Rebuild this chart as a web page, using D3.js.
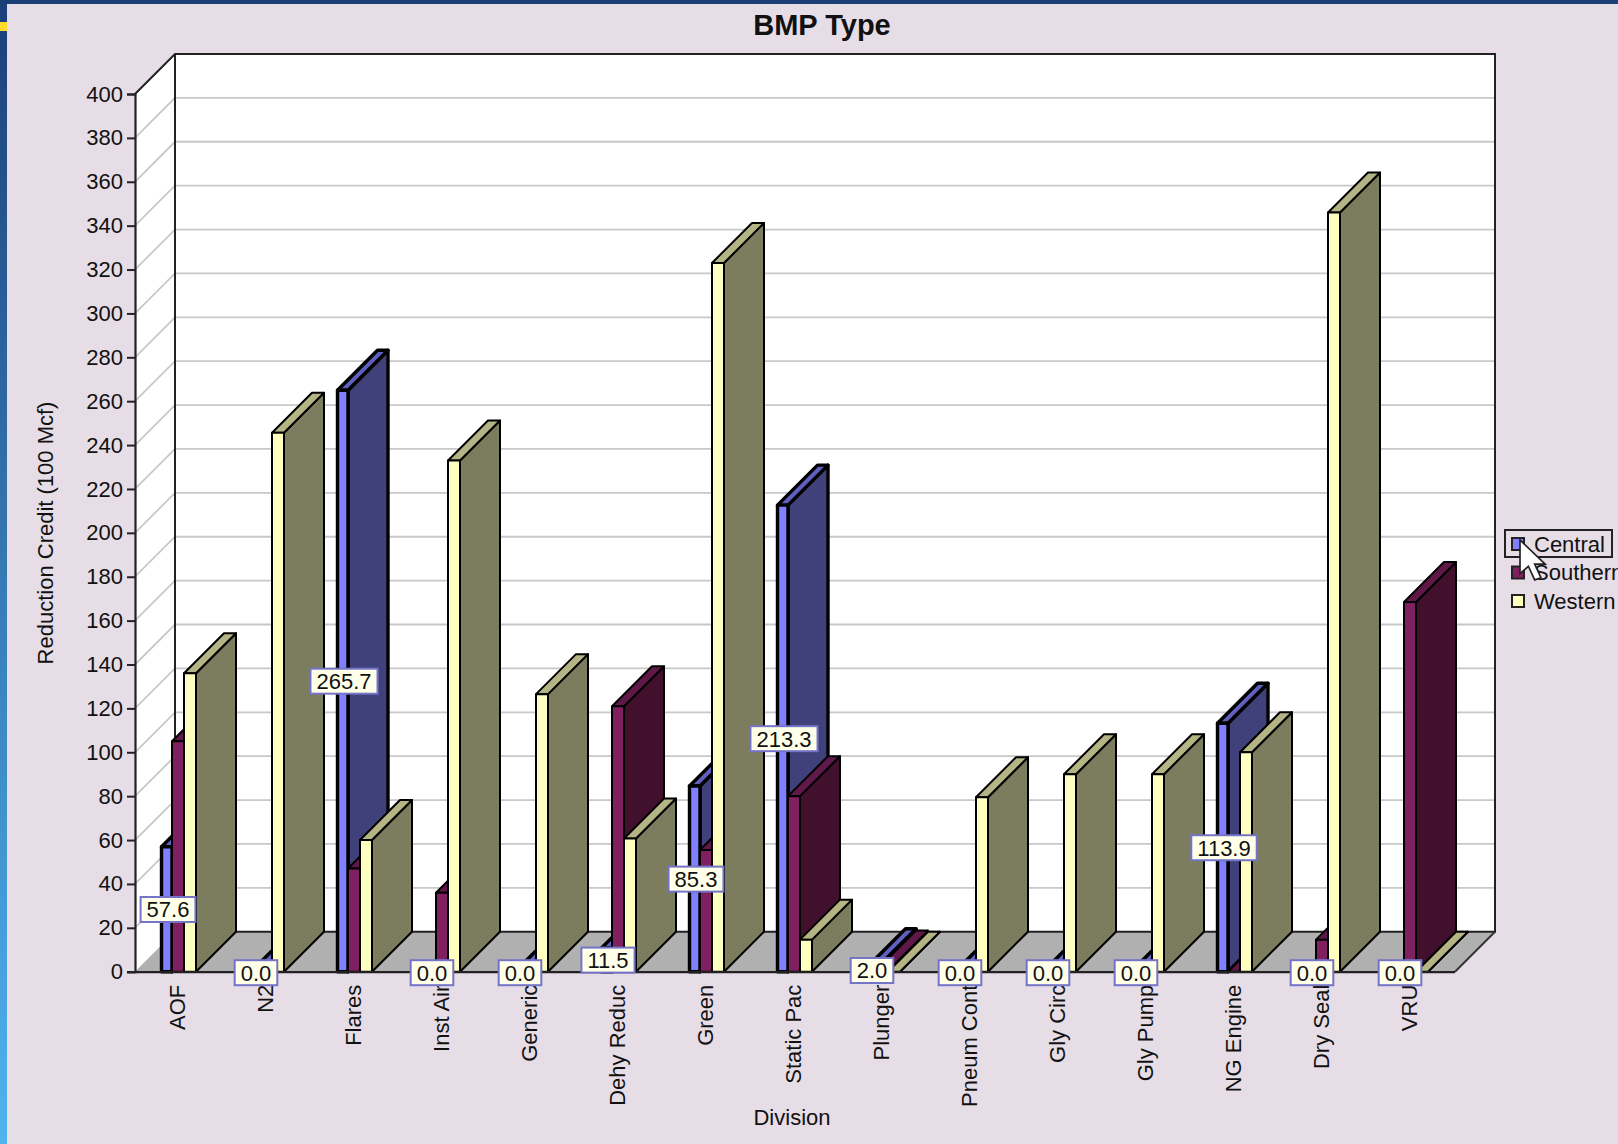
<!DOCTYPE html>
<html>
<head>
<meta charset="utf-8">
<script src="https://cdn.jsdelivr.net/npm/d3@7"></script>
<style>
html, body { margin: 0; padding: 0; background: #e6dde6; overflow: hidden; }
svg { display: block; }
text { font-family: "Liberation Sans", Arial, sans-serif; fill: #111; }
</style>
</head>
<body>
<div id="chart"></div>
<script>
// values
const categories = ["AOF", "N2", "Flares", "Inst Air", "Generic", "Dehy Reduc", "Green", "Static Pac",
    "Plunger", "Pneum Cont", "Gly Circ", "Gly Pump", "NG Engine", "Dry Seal", "VRU"];
const seriesNames = ["Central", "Southern", "Western"];
const central = [57.6, 0, 265.7, 0, 0, 11.5, 85.3, 213.3, 2.0, 0, 0, 0, 113.9, 0, 0];
const southern = [105, 0, 47, 36, 0, 121, 55.5, 80, 0.5, 0, 0, 0, 0, 14.6, 168.5];
const western = [136, 245.6, 60, 233, 126.5, 60.7, 323, 14.6, 0, 79.5, 90, 90, 100, 346, 0];
const yTicks = d3.range(0, 401, 20);

const seriesValues = [central, southern, western];
const colors = {
    Central: { front: "#8080ff", side: "#40407a", top: "#6060c0", stroke: 3.4, inset: 1.5 },
    Southern: { front: "#802060", side: "#40102c", top: "#601848", stroke: 2, inset: 0 },
    Western: { front: "#ffffc0", side: "#7c7c5e", top: "#b4b484", stroke: 2, inset: 0 }
};

const width = 1618, height = 1144;
const plotLeft = 135, plotRight = 1455, plotBottom = 971.7, plotTop = 94;
const depth = 40;
const fontSize = "22px";

const svg = d3.select("#chart").append("svg")
    .attr("width", width)
    .attr("height", height);

// page decoration: left stripe
const grad = svg.append("defs").append("linearGradient")
    .attr("id", "stripe").attr("x1", 0).attr("x2", 0).attr("y1", 0).attr("y2", 1);
grad.append("stop").attr("offset", "0%").attr("stop-color", "#1c3f78");
grad.append("stop").attr("offset", "100%").attr("stop-color", "#4fb4f0");

svg.append("rect").attr("width", width).attr("height", 4).attr("fill", "#1c3f78");
svg.append("rect").attr("width", 7).attr("height", height).attr("fill", "url(#stripe)");
svg.append("rect").attr("y", 22).attr("width", 7).attr("height", 9).attr("fill", "#ffd92e");

const x = d3.scaleBand().domain(categories).range([plotLeft, plotRight]);
const y = d3.scaleLinear().domain([0, 400]).range([plotBottom, plotTop]);
const xSeries = d3.scaleBand().domain(seriesNames).range([25, 61]);

// walls and floor
const wallTop = y(400) - depth;
const wallBottom = plotBottom - depth;

svg.append("rect")
    .attr("x", plotLeft + depth).attr("y", wallTop)
    .attr("width", plotRight - plotLeft).attr("height", wallBottom - wallTop)
    .attr("fill", "#fff");
svg.append("path")
    .attr("d", `M${plotLeft},${plotBottom}V${y(400)}L${plotLeft + depth},${wallTop}V${wallBottom}Z`)
    .attr("fill", "#fff");
svg.append("path")
    .attr("d", `M${plotLeft},${plotBottom}H${plotRight}L${plotRight + depth},${wallBottom}H${plotLeft + depth}Z`)
    .attr("fill", "#b0b0b0");

// grid lines
svg.append("g").selectAll("path")
    .data(yTicks.filter(d => d > 0 && d < 400))
    .enter().append("path")
    .attr("d", d => `M${plotLeft},${y(d)}L${plotLeft + depth},${y(d) - depth}H${plotRight + depth}`)
    .attr("fill", "none")
    .attr("stroke", "#c8c8c8")
    .attr("stroke-width", 1.8);

// wall outlines
svg.append("path")
    .attr("d", `M${plotLeft},${y(400)}L${plotLeft + depth},${wallTop}H${plotRight + depth}V${wallBottom}H${plotLeft + depth}`)
    .attr("fill", "none").attr("stroke", "#222").attr("stroke-width", 2);
svg.append("path")
    .attr("d", `M${plotLeft + depth},${wallTop}V${wallBottom}`)
    .attr("stroke", "#222").attr("stroke-width", 2);
svg.append("path")
    .attr("d", `M${plotRight + depth},${wallBottom}L${plotRight},${plotBottom}`)
    .attr("stroke", "#333").attr("stroke-width", 2);

// bars: one front, one side and one top face per value
function drawBar(g, name, cat, value) {
    const c = colors[name];
    const x0 = x(cat) + xSeries(name) + c.inset;
    const x1 = x(cat) + xSeries(name) + xSeries.bandwidth();
    const yv = y(value) + c.inset;
    const bar = g.append("g")
        .attr("stroke", "#000")
        .attr("stroke-width", c.stroke)
        .attr("stroke-linejoin", "round");
    bar.append("path")
        .attr("d", `M${x1},${plotBottom}V${yv}L${x1 + depth},${yv - depth}V${plotBottom - depth}Z`)
        .attr("fill", c.side);
    bar.append("path")
        .attr("d", `M${x0},${yv}H${x1}L${x1 + depth},${yv - depth}H${x0 + depth}Z`)
        .attr("fill", c.top);
    bar.append("rect")
        .attr("x", x0).attr("y", yv)
        .attr("width", x1 - x0).attr("height", Math.max(0, plotBottom - yv))
        .attr("fill", c.front);
}

const bars = svg.append("g");
categories.forEach((cat, i) => {
    seriesNames.forEach((name, s) => drawBar(bars, name, cat, seriesValues[s][i]));
});

// axes
const yAxis = d3.axisLeft(y).tickValues(yTicks).tickSize(8).tickPadding(4);
const yG = svg.append("g").attr("transform", `translate(${plotLeft},0)`).call(yAxis);
yG.select(".domain").attr("stroke", "#222").attr("stroke-width", 2.2);
yG.selectAll(".tick line").attr("stroke", "#222").attr("stroke-width", 2);
yG.selectAll("text").style("font-size", fontSize).style("font-family", "Liberation Sans").attr("fill", "#111");

const xAxis = d3.axisBottom(x).tickSize(0).tickPadding(0);
const xG = svg.append("g").attr("transform", `translate(0,${plotBottom})`).call(xAxis);
xG.select(".domain").attr("d", `M${plotLeft - 8},0.5H${plotRight}`).attr("stroke", "#222").attr("stroke-width", 2.2);
xG.selectAll("text")
    .style("font-size", fontSize).style("font-family", "Liberation Sans").attr("fill", "#111")
    .attr("text-anchor", "end")
    .attr("dy", "0.35em")
    .attr("transform", "translate(-2,13) rotate(-90)");

// value labels, only the Central series has them
const labels = svg.append("g");
categories.forEach((cat, i) => {
    const v = central[i];
    const cx = x(cat) + xSeries("Central") + xSeries.bandwidth() / 2 + 2;
    const cy = y(v / 2) + 1;
    const lg = labels.append("g").attr("transform", `translate(${cx},${cy})`);
    const box = lg.append("rect").attr("fill", "#ffffea").attr("stroke", "#7474c8").attr("stroke-width", 2);
    const t = lg.append("text").text(v.toFixed(1))
        .attr("text-anchor", "middle").attr("dy", "0.36em")
        .style("font-size", fontSize);
    const w = t.node().getComputedTextLength() + 12;
    box.attr("x", -w / 2).attr("y", -12.5).attr("width", w).attr("height", 25);
});

// axis titles
svg.append("text").attr("x", 822).attr("y", 35)
    .attr("text-anchor", "middle")
    .style("font-size", "29px").style("font-weight", "bold")
    .text("BMP Type");
svg.append("text").attr("x", 792).attr("y", 1125)
    .attr("text-anchor", "middle")
    .style("font-size", fontSize)
    .text("Division");
svg.append("text")
    .attr("transform", "translate(53,533) rotate(-90)")
    .attr("text-anchor", "middle")
    .style("font-size", fontSize)
    .text("Reduction Credit (100 Mcf)");

// legend
const legend = svg.append("g");
legend.append("rect")
    .attr("x", 1505).attr("y", 530).attr("width", 107).attr("height", 27)
    .attr("fill", "none").attr("stroke", "#222").attr("stroke-width", 2);
const legendY = d3.scalePoint().domain(seriesNames).range([544, 601]);
seriesNames.forEach(name => {
    legend.append("rect")
        .attr("x", 1512).attr("y", legendY(name) - 6)
        .attr("width", 12).attr("height", 12)
        .attr("fill", colors[name].front)
        .attr("stroke", "#222").attr("stroke-width", 2);
    legend.append("text")
        .attr("x", 1534).attr("y", legendY(name) + 7.5)
        .style("font-size", fontSize)
        .text(name);
});

// mouse cursor sitting on the legend
svg.append("path")
    .attr("transform", "translate(1520,540) scale(2.1)")
    .attr("d", "M0,0V16L4,12.5L7,19L10,18L7,11.5H12Z")
    .attr("fill", "#fff").attr("stroke", "#222").attr("stroke-width", 0.8);
</script>
</body>
</html>
